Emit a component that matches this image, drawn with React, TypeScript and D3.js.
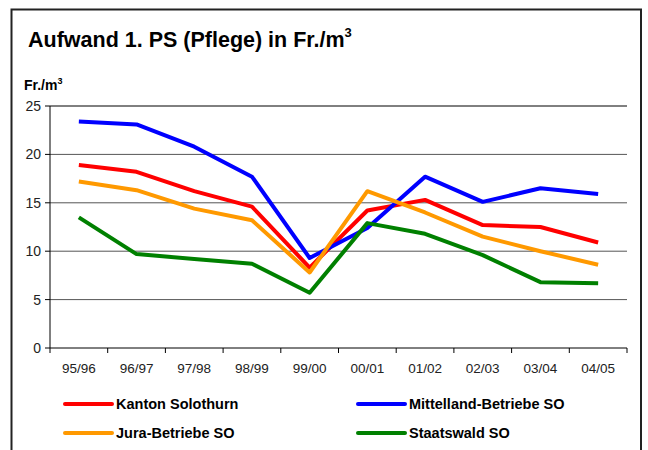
import React from "react";
import * as d3 from "d3";

const years = ["95/96", "96/97", "97/98", "98/99", "99/00", "00/01", "01/02", "02/03", "03/04", "04/05"];
const kanton = [18.9, 18.2, 16.2, 14.6, 8.3, 14.2, 15.3, 12.7, 12.5, 10.9];
const mittelland = [23.4, 23.1, 20.8, 17.7, 9.3, 12.4, 17.7, 15.1, 16.5, 15.9];
const jura = [17.2, 16.3, 14.4, 13.2, 7.8, 16.2, 14.0, 11.5, 10.0, 8.6];
const staatswald = [13.5, 9.7, 9.2, 8.7, 5.7, 12.9, 11.8, 9.6, 6.8, 6.7];
const yTicks = [0, 5, 10, 15, 20, 25];

const series = [
  { name: "Kanton Solothurn", values: kanton, color: "#ff0000" },
  { name: "Mittelland-Betriebe SO", values: mittelland, color: "#0000ff" },
  { name: "Jura-Betriebe SO", values: jura, color: "#ff9900" },
  { name: "Staatswald SO", values: staatswald, color: "#008000" },
];

const W = 648;
const H = 450;
const left = 50;
const right = 627;
const top = 106;
const bottom = 348;

export default function App() {
  const x = d3.scaleBand<string>().domain(years).range([left, right]);
  const y = d3.scaleLinear().domain([0, 25]).range([bottom, top]);
  const line = d3
    .line<number>()
    .x((_, i) => (x(years[i]) as number) + x.bandwidth() / 2)
    .y((d) => y(d));

  const legendPos = [
    [65, 404],
    [358, 404],
    [65, 433],
    [358, 433],
  ];

  return (
    <svg
      width={W}
      height={H}
      style={{ position: "absolute", left: 0, top: 0, background: "#fff" }}
      fontFamily="Arial, 'Liberation Sans', sans-serif"
    >
      <path d={`M11.5,${H}V9.5H641V${H}`} fill="none" stroke="#222" strokeWidth={2} />
      <text x={28} y={47} fontSize={21.5} fontWeight="bold" fill="#000">
        Aufwand 1. PS (Pflege) in Fr./m
        <tspan fontSize={13} dy={-10}>3</tspan>
      </text>
      <text x={24} y={90} fontSize={14} fontWeight="bold" fill="#000">
        Fr./m
        <tspan fontSize={9} dy={-6}>3</tspan>
      </text>

      {yTicks.map((t) => (
        <g key={t}>
          {t > 0 && (
            <line x1={left} x2={right} y1={y(t)} y2={y(t)} stroke={t === 25 ? "#000" : "#555"} strokeWidth={1} />
          )}
          <line x1={left - 5} x2={left} y1={y(t)} y2={y(t)} stroke="#000" />
          <text x={left - 9} y={y(t) + 5} fontSize={14} textAnchor="end" fill="#222">
            {t}
          </text>
        </g>
      ))}
      <line x1={left} x2={left} y1={top} y2={bottom} stroke="#000" />
      <line x1={left} x2={right} y1={bottom} y2={bottom} stroke="#000" />
      {years.map((yr, i) => (
        <g key={yr}>
          <line x1={x(yr)} x2={x(yr)} y1={bottom} y2={bottom + 5} stroke="#000" />
          {i === years.length - 1 && (
            <line x1={right} x2={right} y1={bottom} y2={bottom + 5} stroke="#000" />
          )}
          <text x={(x(yr) as number) + x.bandwidth() / 2} y={373} fontSize={13.5} textAnchor="middle" fill="#222">
            {yr}
          </text>
        </g>
      ))}

      {series.map((s) => (
        <path
          key={s.name}
          d={line(s.values) || ""}
          fill="none"
          stroke={s.color}
          strokeWidth={4}
          strokeLinejoin="round"
        />
      ))}

      {series.map((s, i) => (
        <g key={s.name}>
          <line
            x1={legendPos[i][0]}
            x2={legendPos[i][0] + 47}
            y1={legendPos[i][1]}
            y2={legendPos[i][1]}
            stroke={s.color}
            strokeWidth={4}
            strokeLinecap="round"
          />
          <text x={legendPos[i][0] + 51} y={legendPos[i][1] + 5} fontSize={14.5} fontWeight="bold" fill="#000">
            {s.name}
          </text>
        </g>
      ))}
    </svg>
  );
}
